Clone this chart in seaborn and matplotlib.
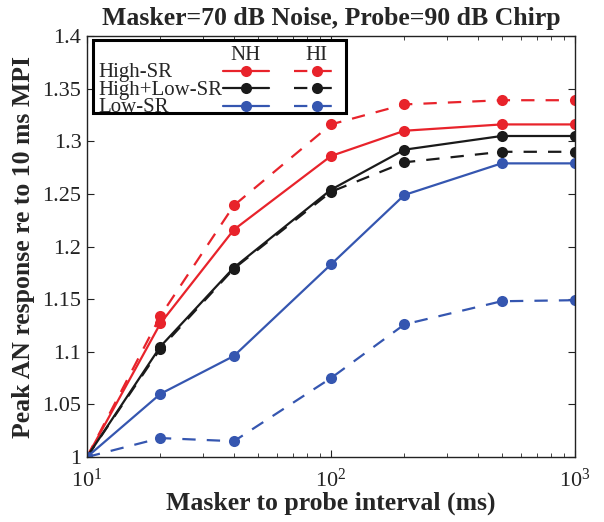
import pandas as pd
import matplotlib.pyplot as plt
import matplotlib.ticker as mticker
from matplotlib.lines import Line2D
from matplotlib.patches import Rectangle
import seaborn as sns

# masker-to-probe interval (ms)
mpi = [10, 20, 40, 100, 200, 500, 1000]

# peak AN response re to 10 ms MPI
high_nh = [1.0, 1.127, 1.216, 1.286, 1.310, 1.316, 1.316]
high_hi = [1.0, 1.134, 1.239, 1.316, 1.335, 1.339, 1.339]
mix_nh = [1.0, 1.105, 1.180, 1.254, 1.292, 1.305, 1.305]
mix_hi = [1.0, 1.103, 1.179, 1.252, 1.280, 1.290, 1.290]
low_nh = [1.0, 1.060, 1.096, 1.183, 1.249, 1.279, 1.279]
low_hi = [1.0, 1.018, 1.015, 1.075, 1.126, 1.148, 1.149]

fibers = ["High-SR", "High+Low-SR", "Low-SR"]
groups = ["NH", "HI"]
series = {("High-SR", "NH"): high_nh, ("High-SR", "HI"): high_hi,
          ("High+Low-SR", "NH"): mix_nh, ("High+Low-SR", "HI"): mix_hi,
          ("Low-SR", "NH"): low_nh, ("Low-SR", "HI"): low_hi}

rows = []
for (fiber, group), vals in series.items():
    for x, y in zip(mpi, vals):
        rows.append({"fiber": fiber, "group": group, "mpi": x, "resp": y})
df = pd.DataFrame(rows)

colors = {"High-SR": "#e8232b", "High+Low-SR": "#1a1a1a", "Low-SR": "#3556b0"}
dash_style = {"NH": "", "HI": (6, 5)}

sns.set_style("ticks")
plt.rcParams['font.family'] = ['Liberation Serif', 'DejaVu Serif']
plt.rcParams['mathtext.fontset'] = 'stix'
plt.rcParams['axes.linewidth'] = 1.0

fig = plt.figure(figsize=(6.04, 5.22), dpi=100)
ax = fig.add_axes([0.144, 0.1245, 0.808, 0.8065])

sns.lineplot(data=df, x="mpi", y="resp", hue="fiber", style="group",
             hue_order=fibers, style_order=groups, palette=colors,
             dashes=dash_style, markers={"NH": "o", "HI": "o"},
             markersize=8, markeredgewidth=0, linewidth=1.6,
             legend=False, ax=ax)

ax.set_xscale("log")
ax.set_xlim(10, 1000)
ax.set_ylim(1.0, 1.4)
ax.set_yticks([1.0, 1.05, 1.1, 1.15, 1.2, 1.25, 1.3, 1.35, 1.4])
ax.yaxis.set_major_formatter(mticker.FormatStrFormatter("%g"))
ax.tick_params(which="both", direction="in", top=True, right=True,
               labelsize=16, colors="#222222")
ax.tick_params(axis="y", pad=4)
ax.tick_params(axis="x", pad=8.5)
ax.tick_params(which="major", length=5)
ax.tick_params(which="minor", length=3)
for s in ax.spines.values():
    s.set_color("#222222")

ax.set_title("Masker=70 dB Noise, Probe=90 dB Chirp", fontsize=18.5,
             fontweight="bold", pad=8)
ax.set_xlabel("Masker to probe interval (ms)", fontsize=18.5,
              fontweight="bold", labelpad=0)
ax.set_ylabel("Peak AN response re to 10 ms MPI", fontsize=18.5,
              fontweight="bold", labelpad=5)

# MATLAB-style legend with NH / HI columns
tr = ax.transAxes
ax.add_patch(Rectangle((0.012, 0.817), 0.519, 0.1735, transform=tr,
                       facecolor="white", edgecolor="black", linewidth=2.2,
                       zorder=5))
ax.text(0.325, 0.943, "NH", transform=tr, ha="center", va="baseline",
        fontsize=15, zorder=6)
ax.text(0.4705, 0.943, "HI", transform=tr, ha="center", va="baseline",
        fontsize=15, zorder=6)
row_y = [0.918, 0.876, 0.834]
base_y = [0.903, 0.861, 0.819]
for fiber, yy, by in zip(fibers, row_y, base_y):
    ax.text(0.024, by, fiber, transform=tr, ha="left", va="baseline",
            fontsize=15, zorder=6)
    for group, (x0, x1) in zip(groups, [(0.278, 0.374), (0.424, 0.518)]):
        ln = Line2D([x0, x1], [yy, yy], transform=tr, color=colors[fiber],
                    linewidth=1.6, zorder=6)
        if dash_style[group]:
            ln.set_dashes(dash_style[group])
        ax.add_line(ln)
        ax.add_line(Line2D([(x0 + x1) / 2], [yy], transform=tr, marker="o",
                           markersize=8, markeredgewidth=0,
                           color=colors[fiber], zorder=7))

fig.savefig("out.png", dpi=100)
